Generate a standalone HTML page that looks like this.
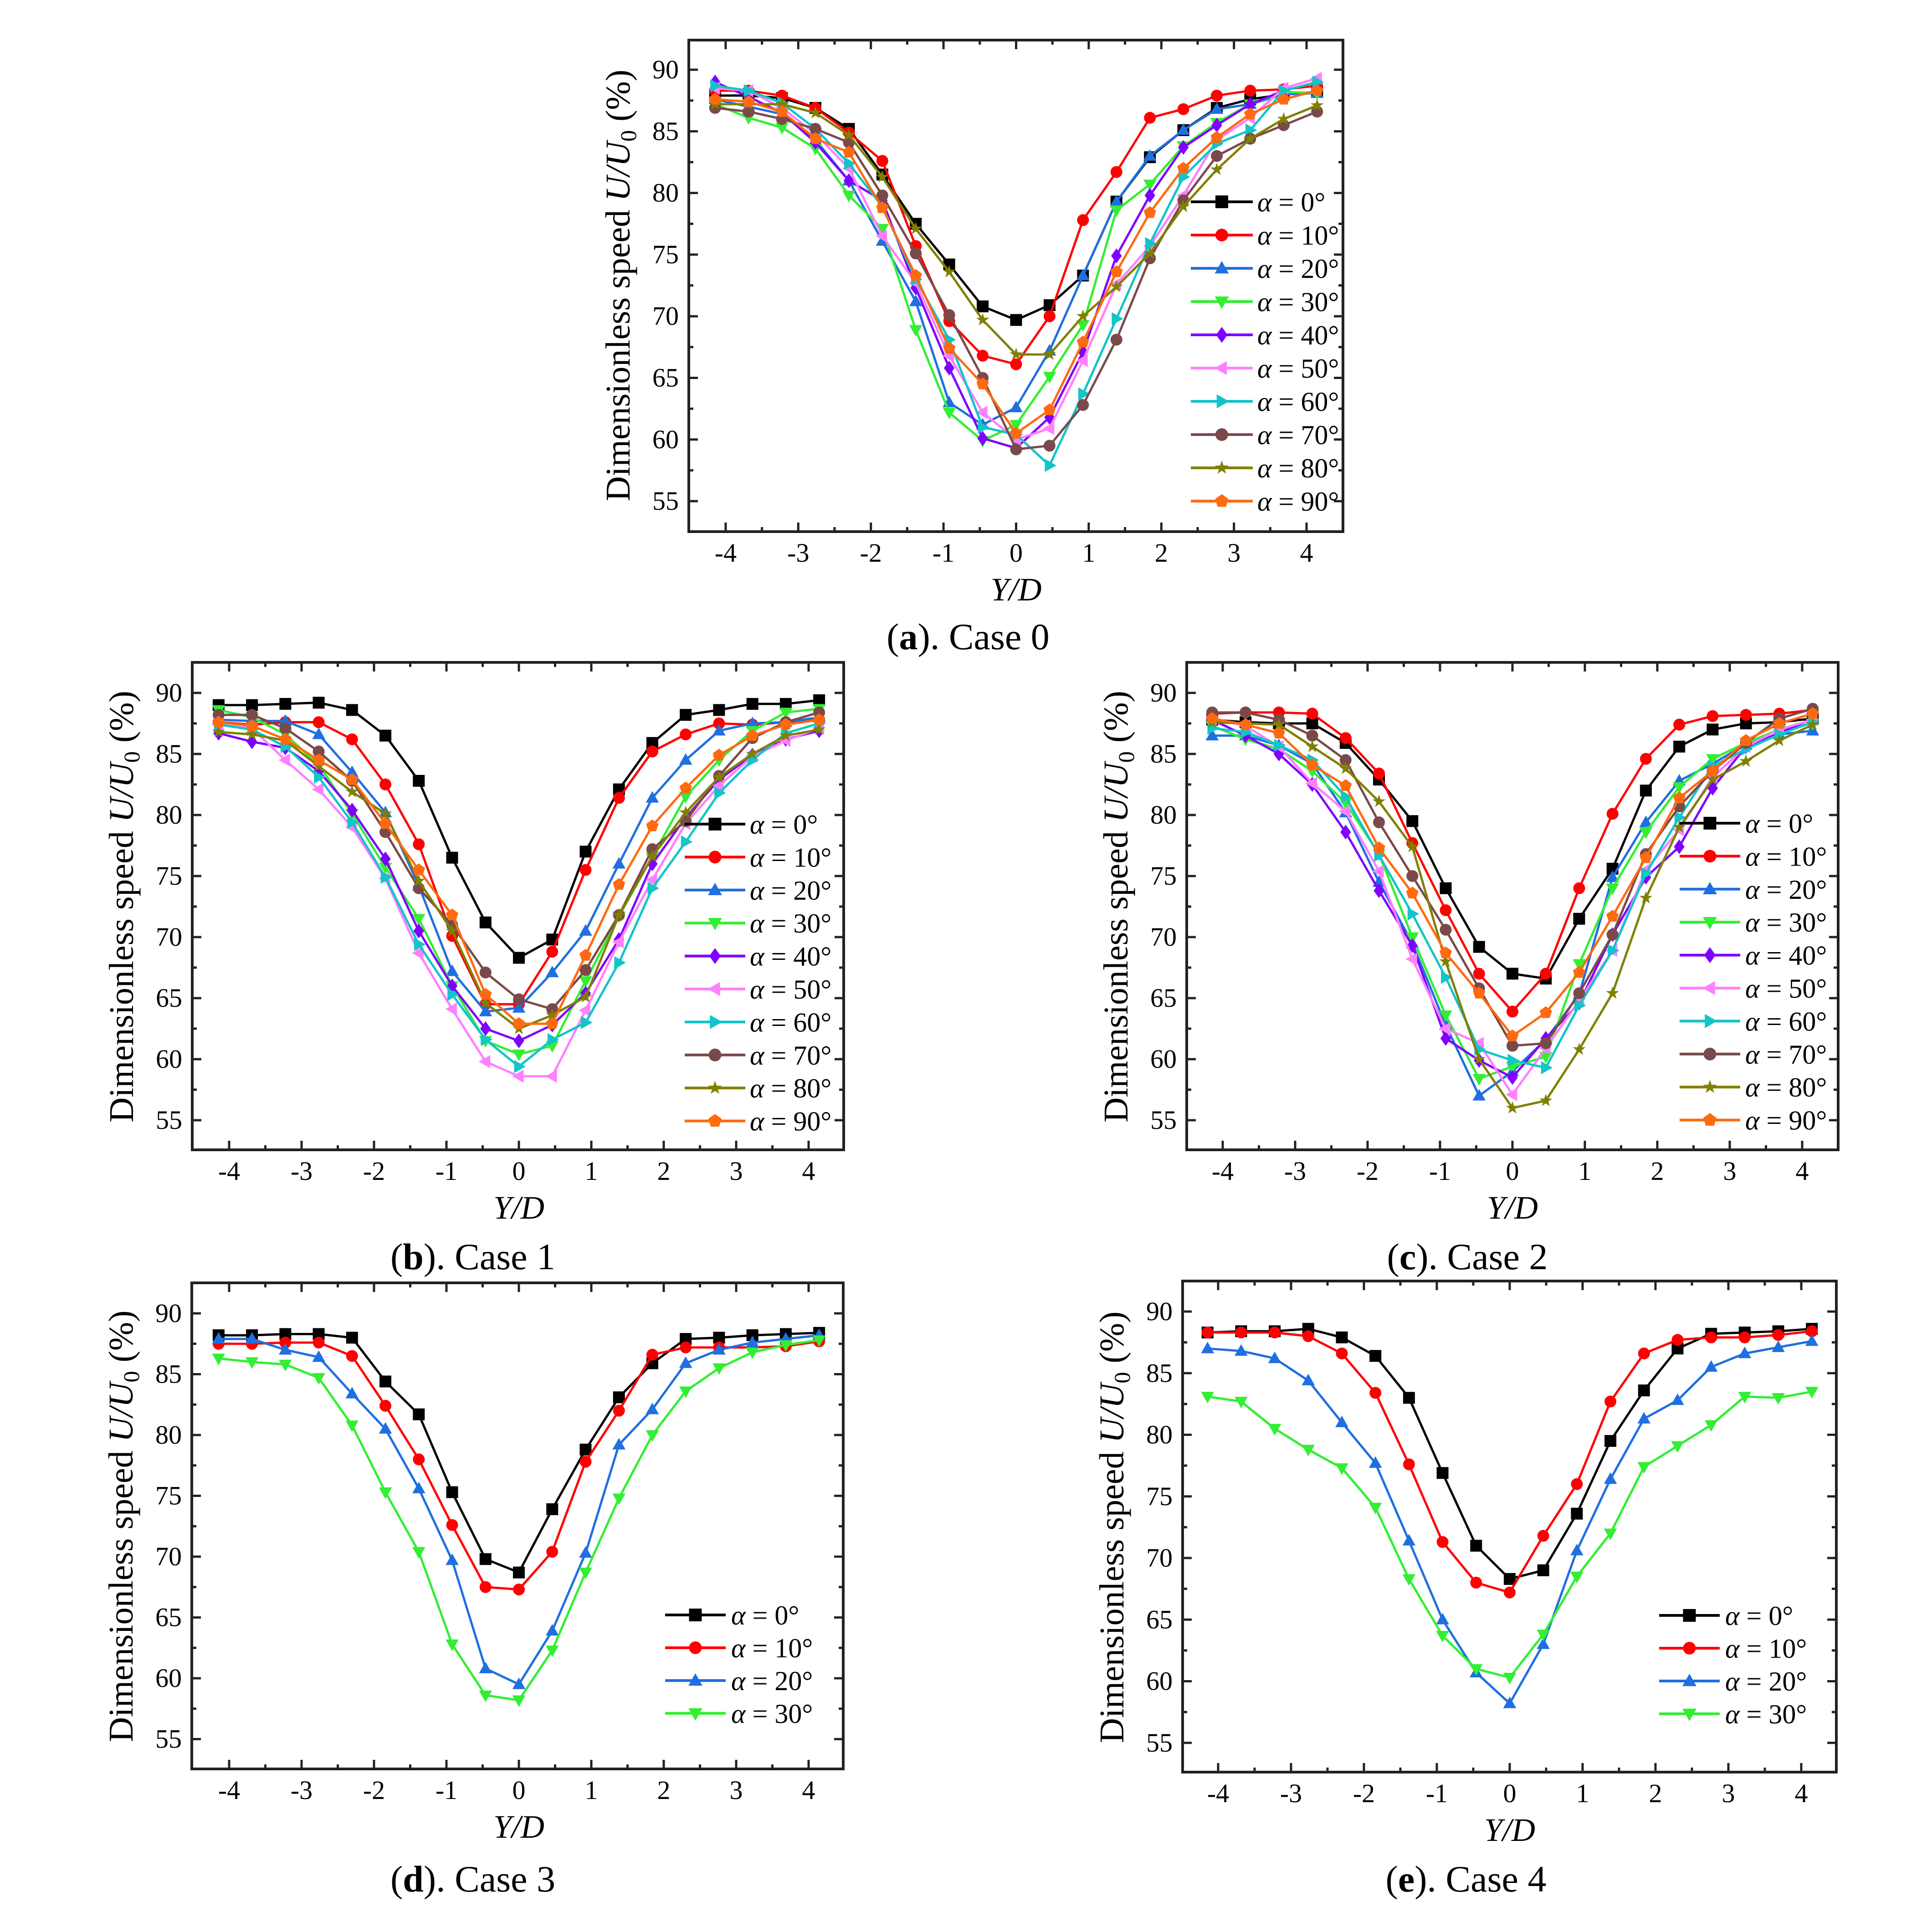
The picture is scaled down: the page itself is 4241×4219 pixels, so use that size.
<!DOCTYPE html>
<html><head><meta charset="utf-8">
<style>
html,body{margin:0;padding:0;background:#fff;}
svg{display:block;}
svg text, svg tspan{font-family:"Liberation Serif","DejaVu Serif",serif !important;fill:#000;}
</style></head>
<body>
<svg id="fig" width="4241" height="4219" viewBox="0 0 4241 4219" xmlns="http://www.w3.org/2000/svg" font-family="Liberation Serif, DejaVu Serif, serif">
<rect x="0" y="0" width="4241" height="4219" fill="#fff"/>
</svg>
<script>
// ---------- data ----------
const xIndex = [-9,-8,-7,-6,-5,-4,-3,-2,-1,0,1,2,3,4,5,6,7,8,9];
const xStep = 0.4606;
const angleLabels = ["0","10","20","30","40","50","60","70","80","90"];
const xTickLabels = ["-4","-3","-2","-1","0","1","2","3","4"];
const yTickLabels = ["55","60","65","70","75","80","85","90"];

const case0_a0  = [87.9,87.9,87.7,86.9,85.2,81.5,77.5,74.2,70.8,69.7,70.9,73.3,79.3,82.9,85.1,86.9,87.6,88.0,88.2];
const case0_a10 = [88.3,88.3,87.9,86.9,84.9,82.6,75.7,69.6,66.8,66.1,70.0,77.8,81.7,86.1,86.8,87.9,88.3,88.4,88.7];
const case0_a20 = [87.6,87.0,86.4,84.3,81.0,76.1,71.2,63.0,61.2,62.6,67.2,73.3,79.3,83.0,85.1,86.8,87.2,88.0,88.1];
const case0_a30 = [87.2,86.1,85.3,83.6,79.8,77.1,68.9,62.2,59.9,61.2,65.1,69.3,78.6,80.7,83.8,85.7,87.2,88.2,88.1];
const case0_a40 = [89.0,87.8,86.5,84.1,81.0,79.4,72.3,65.8,60.1,59.3,61.8,67.1,74.9,79.8,83.7,85.5,87.2,88.3,89.0];
const case0_a50 = [88.5,88.3,86.9,84.8,82.0,76.5,72.7,66.8,62.2,60.0,60.9,66.4,72.6,75.7,79.8,84.3,86.1,88.5,89.3];
const case0_a60 = [88.7,88.3,87.3,85.2,82.4,78.9,73.0,68.1,61.0,60.4,57.9,63.7,69.8,75.9,81.3,84.0,85.1,88.3,89.0];
const case0_a70 = [86.9,86.6,86.0,85.2,84.1,79.8,75.1,70.1,65.0,59.2,59.5,62.8,68.1,74.7,79.4,83.0,84.4,85.5,86.6];
const case0_a80 = [87.2,87.2,87.2,86.5,84.7,81.3,77.1,73.6,69.7,66.9,66.9,70.0,72.4,75.1,78.9,81.9,84.4,86.0,87.1];
const case0_a90 = [87.6,87.4,86.6,84.4,83.3,78.8,73.3,67.4,64.5,60.5,62.4,67.9,73.6,78.4,82.0,84.5,86.4,87.6,88.3];

const case1_a0  = [89.0,89.0,89.1,89.2,88.6,86.5,82.8,76.5,71.2,68.3,69.8,77.0,82.1,85.9,88.2,88.6,89.1,89.1,89.4];
const case1_a10 = [87.6,87.4,87.6,87.6,86.2,82.5,77.6,70.1,64.5,64.5,68.8,75.5,81.4,85.2,86.6,87.5,87.4,87.6,87.8];
const case1_a20 = [87.8,87.7,87.7,86.6,83.5,80.2,74.2,67.2,63.9,64.2,67.1,70.5,76.0,81.4,84.5,86.9,87.5,87.6,88.0];
const case1_a30 = [88.6,88.0,86.6,84.1,80.1,75.7,71.5,66.0,61.5,60.4,61.1,66.4,71.7,76.6,81.5,84.5,86.9,88.4,88.7];
const case1_a40 = [86.7,86.0,85.5,83.6,80.4,76.4,70.5,66.0,62.5,61.5,62.8,65.4,69.8,76.0,79.8,82.9,84.9,86.2,86.9];
const case1_a50 = [87.4,87.1,84.5,82.1,79.0,74.8,68.7,64.1,59.8,58.6,58.6,64.0,69.6,74.7,79.3,82.4,84.8,86.1,87.1];
const case1_a60 = [87.4,87.0,85.6,83.1,79.4,74.9,69.4,65.3,61.6,59.4,61.6,63.0,67.9,74.0,77.8,81.8,84.5,86.7,87.5];
const case1_a70 = [88.2,88.2,87.1,85.2,82.8,78.6,74.0,71.0,67.1,64.9,64.1,67.3,71.8,77.2,79.5,83.2,86.3,87.6,88.4];
const case1_a80 = [86.8,86.6,86.1,84.0,81.9,80.1,74.6,70.5,64.6,62.5,63.6,65.1,71.8,76.6,80.2,83.1,85.0,86.5,87.0];
const case1_a90 = [87.6,87.3,86.2,84.5,82.9,79.3,75.5,71.8,65.3,62.9,62.9,68.5,74.3,79.1,82.2,84.9,86.5,87.4,87.8];

const case2_a0  = [87.8,87.6,87.5,87.5,85.9,82.9,79.5,74.0,69.2,67.0,66.6,71.5,75.6,82.0,85.6,87.0,87.5,87.6,87.9];
const case2_a10 = [88.3,88.4,88.4,88.3,86.3,83.4,77.7,72.2,67.0,63.9,67.0,74.0,80.1,84.6,87.4,88.1,88.2,88.3,88.6];
const case2_a20 = [86.5,86.5,85.7,84.2,80.2,74.5,69.5,62.8,57.0,59.0,61.6,65.3,74.9,79.4,82.8,84.2,85.8,86.6,86.9];
const case2_a30 = [87.3,86.2,85.4,83.6,81.0,76.8,70.0,63.6,58.4,59.4,60.2,67.8,74.0,78.6,82.3,84.6,85.9,87.0,87.5];
const case2_a40 = [87.8,86.5,85.0,82.5,78.6,73.8,69.3,61.7,59.9,58.5,61.7,64.6,70.2,74.9,77.4,82.2,85.6,86.7,87.9];
const case2_a50 = [87.9,87.3,85.6,82.6,80.3,75.4,68.2,62.5,61.3,57.1,60.9,64.8,68.9,75.5,78.8,83.1,85.6,87.0,87.8];
const case2_a60 = [87.1,86.8,85.7,84.5,81.5,76.7,71.9,66.7,60.8,59.9,59.3,64.4,68.9,75.2,79.8,84.0,85.4,86.6,87.6];
const case2_a70 = [88.4,88.4,87.8,86.5,84.5,79.4,75.0,70.6,65.8,61.1,61.3,65.4,70.2,76.8,80.7,83.6,85.9,87.9,88.7];
const case2_a80 = [87.6,87.5,87.4,85.6,83.8,81.1,77.4,68.0,60.0,56.0,56.6,60.8,65.4,73.2,79.0,82.9,84.4,86.1,87.4];
const case2_a90 = [87.9,87.4,86.7,84.1,82.4,77.3,73.6,68.7,65.4,61.9,63.8,67.1,71.7,76.5,81.4,83.6,86.1,87.5,88.3];

const case3_a0  = [88.2,88.2,88.3,88.3,88.0,84.4,81.7,75.3,69.8,68.7,73.9,78.8,83.1,85.9,87.9,88.0,88.2,88.3,88.4];
const case3_a10 = [87.5,87.5,87.6,87.6,86.5,82.4,78.0,72.6,67.5,67.3,70.4,77.8,82.0,86.6,87.2,87.2,87.2,87.3,87.7];
const case3_a20 = [87.9,87.9,87.0,86.4,83.4,80.5,75.6,69.7,60.8,59.5,63.9,70.3,79.2,82.1,85.9,87.0,87.6,87.9,88.2];
const case3_a30 = [86.3,86.0,85.8,84.7,80.8,75.3,70.4,62.8,58.6,58.2,62.3,68.7,74.8,80.0,83.6,85.5,86.8,87.4,87.8];

const case4_a0  = [88.3,88.4,88.4,88.6,87.9,86.4,83.0,76.9,71.0,68.3,69.0,73.6,79.5,83.6,87.0,88.2,88.3,88.4,88.6];
const case4_a10 = [88.3,88.3,88.3,88.0,86.6,83.4,77.6,71.3,68.0,67.2,71.8,76.0,82.7,86.6,87.7,87.9,87.9,88.1,88.4];
const case4_a20 = [87.0,86.8,86.2,84.4,81.0,77.7,71.4,65.0,60.7,58.2,63.0,70.6,76.4,81.3,82.8,85.5,86.6,87.1,87.6];
const case4_a30 = [83.1,82.7,80.5,78.8,77.3,74.1,68.3,63.7,61.0,60.3,63.8,68.5,72.0,77.4,79.1,80.8,83.1,83.0,83.5];

// ---------- styles ----------
const NS = "http://www.w3.org/2000/svg";
const SERIF = "Liberation Serif, DejaVu Serif, serif";
const svg = document.getElementById("fig");
const seriesStyles = [
  {c:"#000000", m:"square"},
  {c:"#ff0000", m:"circle"},
  {c:"#1f6fe0", m:"up"},
  {c:"#33ee33", m:"down"},
  {c:"#7f00ff", m:"diamond"},
  {c:"#ff80ff", m:"left"},
  {c:"#13c4c8", m:"right"},
  {c:"#7a4a4a", m:"circle"},
  {c:"#808000", m:"star"},
  {c:"#ff6a10", m:"pentagon"}
];

const panels = [
  {id:"a", cap:"Case 0", left:1512, right:2948, top:88, bottom:1167, x0:2230.5, xu:159.4, y90:153, yu:27.06,
   series:[case0_a0,case0_a10,case0_a20,case0_a30,case0_a40,case0_a50,case0_a60,case0_a70,case0_a80,case0_a90],
   leg:{x1:2614, x2:2750, tx:2760, y:443, dy:73}, capX:2125, capY:1425},
  {id:"b", cap:"Case 1", left:422, right:1852, top:1454, bottom:2524, x0:1139, xu:159, y90:1521, yu:26.8,
   series:[case1_a0,case1_a10,case1_a20,case1_a30,case1_a40,case1_a50,case1_a60,case1_a70,case1_a80,case1_a90],
   leg:{x1:1503, x2:1636, tx:1646, y:1809, dy:72.4}, capX:1038, capY:2786},
  {id:"c", cap:"Case 2", left:2605, right:4035, top:1454, bottom:2524, x0:3320, xu:159, y90:1521, yu:26.8,
   series:[case2_a0,case2_a10,case2_a20,case2_a30,case2_a40,case2_a50,case2_a60,case2_a70,case2_a80,case2_a90],
   leg:{x1:3687, x2:3820, tx:3831, y:1807, dy:72.4}, capX:3221, capY:2786},
  {id:"d", cap:"Case 3", left:421, right:1851, top:2816, bottom:3883, x0:1139, xu:159, y90:2883, yu:26.7,
   series:[case3_a0,case3_a10,case3_a20,case3_a30],
   leg:{x1:1460, x2:1593, tx:1605, y:3545, dy:72}, capX:1038, capY:4152},
  {id:"e", cap:"Case 4", left:2596, right:4031, top:2812, bottom:3890, x0:3314, xu:160, y90:2879, yu:27.05,
   series:[case4_a0,case4_a10,case4_a20,case4_a30],
   leg:{x1:3642, x2:3775, tx:3787, y:3546, dy:72}, capX:3218, capY:4152}
];

function el(tag, attrs, parent){
  const e = document.createElementNS(NS, tag);
  for (const k in attrs) e.setAttribute(k, attrs[k]);
  if (tag === "text") e.setAttribute("font-family", SERIF);
  parent.appendChild(e);
  return e;
}

function markerPath(type, x, y, s){
  const r = s/2;
  switch(type){
    case "square": return `M${x-r},${y-r}h${s}v${s}h${-s}z`;
    case "up": return `M${x},${y-r*1.15}L${x+r*1.1},${y+r*0.8}L${x-r*1.1},${y+r*0.8}z`;
    case "down": return `M${x},${y+r*1.15}L${x+r*1.1},${y-r*0.8}L${x-r*1.1},${y-r*0.8}z`;
    case "left": return `M${x-r*1.15},${y}L${x+r*0.8},${y-r*1.1}L${x+r*0.8},${y+r*1.1}z`;
    case "right": return `M${x+r*1.15},${y}L${x-r*0.8},${y-r*1.1}L${x-r*0.8},${y+r*1.1}z`;
    case "diamond": return `M${x},${y-r*1.25}L${x+r*0.9},${y}L${x},${y+r*1.25}L${x-r*0.9},${y}z`;
    case "star": {
      let d=""; for(let i=0;i<10;i++){const a=-Math.PI/2+i*Math.PI/5; const rr=i%2?r*0.45:r*1.15;
        d+=(i?"L":"M")+(x+rr*Math.cos(a)).toFixed(1)+","+(y+rr*Math.sin(a)).toFixed(1);} return d+"z";}
    case "pentagon": {
      let d=""; for(let i=0;i<5;i++){const a=-Math.PI/2+i*2*Math.PI/5;
        d+=(i?"L":"M")+(x+r*1.1*Math.cos(a)).toFixed(1)+","+(y+r*1.1*Math.sin(a)).toFixed(1);} return d+"z";}
    default: {
      return `M${x-r},${y}a${r},${r} 0 1,0 ${s},0a${r},${r} 0 1,0 ${-s},0z`;}
  }
}

panels.forEach(p => {
  const sx = v => p.x0 + v*p.xu;
  const sy = v => p.y90 + (90 - v)*p.yu;
  const g = el("g", {}, svg);
  
  

  const tg = el("g", {stroke:"#222", "stroke-width":5}, g);
  
  
  for (let v=-4.5; v<=4.51; v+=0.5){
    const x = sx(v); if (x < p.left+3 || x > p.right-3) continue;
    const L = Math.abs(v - Math.round(v)) < 0.01 ? 20 : 10;
    el("line", {x1:x, y1:p.bottom, x2:x, y2:p.bottom-L}, tg);
    el("line", {x1:x, y1:p.top, x2:x, y2:p.top+L}, tg);
  }
  for (let v=52.5; v<=92.6; v+=2.5){
    const y = sy(v); if (y < p.top+3 || y > p.bottom-3) continue;
    const L = (v % 5 === 0) ? 20 : 10;
    el("line", {x1:p.left, y1:y, x2:p.left+L, y2:y}, tg);
    el("line", {x1:p.right, y1:y, x2:p.right-L, y2:y}, tg);
  }
  const frame = el("rect", {x:p.left, y:p.top, width:p.right-p.left, height:p.bottom-p.top, fill:"none", stroke:"#222", "stroke-width":6}, g);
  
  

  xTickLabels.forEach(t => {
    const tx = el("text", {x:sx(parseFloat(t)), y:p.bottom+66, "font-size":58, "text-anchor":"middle"}, g);
    tx.textContent = t;
    
    
  });
  yTickLabels.forEach(t => {
    const ty = el("text", {x:p.left-22, y:sy(parseFloat(t))+19, "font-size":58, "text-anchor":"end"}, g);
    ty.textContent = t;
    
    
  });

  const xt = el("text", {x:p.x0, y:p.bottom+151, "font-size":72, "font-style":"italic", "text-anchor":"middle"}, g);
  xt.textContent = "Y/D";
  
  

  const yc = (sy(55)+sy(90))/2;
  const ytx = p.left - 156;
  const yt = el("text", {x:0, y:0, "font-size":76, "text-anchor":"middle", transform:`translate(${ytx+26},${yc}) rotate(-90)`}, g);
  
  
  const s1 = el("tspan", {}, yt); s1.textContent = "Dimensionless speed ";
  const s2 = el("tspan", {"font-style":"italic"}, yt); s2.textContent = "U/U";
  const s3 = el("tspan", {"font-size":50, dy:14}, yt); s3.textContent = "0";
  const s4 = el("tspan", {dy:-14}, yt); s4.textContent = " (%)";

  p.series.forEach((vals, si) => {
    const st = seriesStyles[si];
    const sg = el("g", {}, g);
    
    
    const pts = vals.map((v,i) => sx(xIndex[i]*xStep).toFixed(1) + "," + sy(v).toFixed(1)).join(" ");
    const line = el("polyline", {points:pts, fill:"none", stroke:st.c, "stroke-width":5, "stroke-linejoin":"round"}, sg);
    
    
    vals.forEach((v,i) => {
      const m = el("path", {d:markerPath(st.m, sx(xIndex[i]*xStep), sy(v), 26), fill:st.c}, sg);
      
      
    });
  });

  const lg = el("g", {}, g);
  
  
  p.series.forEach((vals, si) => {
    const st = seriesStyles[si];
    const y = p.leg.y + si*p.leg.dy;
    const eg = el("g", {}, lg);
    
    
    el("line", {x1:p.leg.x1, y1:y, x2:p.leg.x2, y2:y, stroke:st.c, "stroke-width":6}, eg);
    el("path", {d:markerPath(st.m, (p.leg.x1+p.leg.x2)/2, y, 28), fill:st.c}, eg);
    const t = el("text", {x:p.leg.tx, y:y+21, "font-size":60}, eg);
    const a = el("tspan", {"font-style":"italic"}, t); a.textContent = "α";
    const b = el("tspan", {}, t); b.textContent = " = " + angleLabels[si] + "°";
  });

  const cap = el("text", {x:p.capX, y:p.capY, "font-size":82, "text-anchor":"middle"}, g);
  
  
  const c1 = el("tspan", {}, cap); c1.textContent = "(";
  const c2 = el("tspan", {"font-weight":"bold"}, cap); c2.textContent = p.id;
  const c3 = el("tspan", {}, cap); c3.textContent = "). " + p.cap;
});
</script>
</body></html>
